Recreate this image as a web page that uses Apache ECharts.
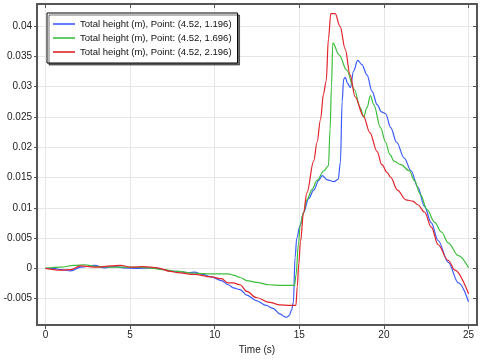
<!DOCTYPE html>
<html>
<head>
<meta charset="utf-8">
<script src="https://cdn.jsdelivr.net/npm/echarts@6/dist/echarts.min.js"></script>
<style>html,body{margin:0;padding:0;background:#fff}#chart{width:483px;height:360px}</style>
</head>
<body>
<div id="chart"></div>
<script>
const seriesNames = [
  'Total height (m), Point: (4.52, 1.196)',
  'Total height (m), Point: (4.52, 1.696)',
  'Total height (m), Point: (4.52, 2.196)'
];
const xTicks = [0, 5, 10, 15, 20, 25];
const yTicks = [-0.005, 0, 0.005, 0.01, 0.015, 0.02, 0.025, 0.03, 0.035, 0.04];

const tBlue = [0, 0.5, 0.9, 1.5, 2.1, 2.9, 3.5, 4.1, 4.6, 5.4, 6.4, 7.0, 7.4, 7.8, 8.5, 8.8, 9.3, 9.8, 10.4, 10.8, 11.1, 11.5, 11.9, 12.45, 13.05, 13.45, 13.85, 14.1, 14.22, 14.4, 14.55, 14.65, 14.75, 14.85, 15.05, 15.25, 15.55, 15.85, 16.15, 16.35, 16.65, 17.05, 17.3, 17.43, 17.53, 17.62, 17.72, 17.85, 18.02, 18.2, 18.45, 18.7, 19.0, 19.3, 19.6, 19.85, 20.1, 20.4, 20.75, 21.2, 21.6, 22.0, 22.4, 22.8, 23.2, 23.8, 24.4, 25.0];
const vBlue = [0, 0, -0.0002, -0.0004, 0.0002, 0.0005, 0.0001, 0.0003, 0.0001, 0.0, 0.0001, -0.0002, -0.0005, -0.0005, -0.0007, -0.0006, -0.001, -0.0014, -0.002, -0.0027, -0.0032, -0.0035, -0.0044, -0.0053, -0.0061, -0.0066, -0.0075, -0.0079, -0.0081, -0.0078, -0.0068, -0.0056, 0.0018, 0.005, 0.0071, 0.0092, 0.0115, 0.0129, 0.0145, 0.0153, 0.0146, 0.0143, 0.0147, 0.0175, 0.0275, 0.0312, 0.0315, 0.0305, 0.0298, 0.0325, 0.0343, 0.0336, 0.0319, 0.0292, 0.027, 0.0258, 0.0255, 0.0232, 0.0208, 0.0182, 0.0161, 0.0134, 0.0102, 0.0075, 0.0046, 0.001, -0.0024, -0.0055];

const tGreen = [0, 0.9, 1.7, 2.3, 3.06, 4.1, 5.0, 6.0, 7.0, 7.8, 8.8, 9.8, 10.4, 10.8, 11.1, 11.5, 11.9, 12.45, 13.25, 13.85, 14.45, 14.72, 14.8, 14.95, 15.05, 15.25, 15.45, 15.75, 16.05, 16.45, 16.72, 16.82, 16.9, 16.98, 17.35, 17.8, 18.25, 18.6, 18.8, 19.0, 19.2, 19.4, 19.8, 20.1, 20.35, 20.6, 21.0, 21.5, 21.8, 22.15, 22.55, 23.0, 23.4, 23.8, 24.4, 25.0];
const vGreen = [0, 0.0002, 0.0005, 0.0006, 0.0003, 0.0002, 0.0002, 0.0001, -0.0002, -0.0005, -0.0008, -0.0009, -0.0009, -0.0009, -0.0011, -0.0015, -0.002, -0.0023, -0.0027, -0.0028, -0.0028, -0.0028, -0.0012, 0.004, 0.0071, 0.0092, 0.0113, 0.013, 0.0145, 0.0161, 0.0169, 0.023, 0.03, 0.0372, 0.0352, 0.0327, 0.0295, 0.0265, 0.025, 0.0265, 0.0285, 0.027, 0.0232, 0.0208, 0.0188, 0.0177, 0.0171, 0.0161, 0.0145, 0.0122, 0.0097, 0.0076, 0.006, 0.0042, 0.0021, 0.0001];

const tRed = [0, 0.9, 1.5, 2.07, 3.06, 3.85, 4.44, 5.04, 5.8, 6.6, 7.4, 7.8, 8.8, 9.8, 10.4, 10.8, 11.1, 11.5, 11.9, 12.45, 13.25, 13.85, 14.45, 14.8, 14.88, 14.97, 15.07, 15.25, 15.45, 15.85, 16.05, 16.25, 16.43, 16.59, 16.72, 16.86, 17.12, 17.41, 17.71, 18.0, 18.3, 18.79, 19.17, 19.59, 19.88, 20.2, 20.4, 20.8, 21.3, 21.7, 22.0, 22.4, 22.8, 23.2, 23.8, 24.2, 25.0];
const vRed = [0, -0.0003, -0.0002, 0.0004, 0.0002, 0.0004, 0.0005, 0.0002, 0.0003, 0.0001, -0.0005, -0.0007, -0.001, -0.0014, -0.0017, -0.0024, -0.0024, -0.0027, -0.0038, -0.0048, -0.0056, -0.006, -0.0061, -0.0061, -0.003, 0.0008, 0.0044, 0.0092, 0.0125, 0.0177, 0.0208, 0.0245, 0.0288, 0.0309, 0.0378, 0.042, 0.042, 0.0399, 0.0362, 0.0319, 0.0283, 0.0251, 0.0224, 0.0193, 0.0171, 0.0158, 0.015, 0.0129, 0.0113, 0.0111, 0.0105, 0.0093, 0.0068, 0.0039, 0.0013, -0.0003, -0.0042];

const colors = ['#3a5afc', '#3dbf3d', '#e0242a'];
const font = "'Liberation Sans', Arial, sans-serif";

function zip(t, v) { return t.map((x, i) => [x, v[i]]); }

const chart = echarts.init(document.getElementById('chart'), null, {renderer: 'canvas'});
const axisLine = {show: true, onZero: false, lineStyle: {color: '#555', width: 2}};
const gridLine = {show: true, lineStyle: {color: '#e6e6e6', width: 1}};

chart.setOption({
  animation: false,
  backgroundColor: '#fff',
  color: colors,
  grid: {left: 37, right: 6, top: 4, bottom: 23, containLabel: false},
  legend: {
    orient: 'vertical', left: 47, top: 13,
    icon: 'rect', itemWidth: 22, itemHeight: 1.6, itemGap: 4,
    padding: [6, 6, 6, 6],
    backgroundColor: '#fff', borderColor: '#000', borderWidth: 1,
    shadowColor: 'rgba(0,0,0,0.55)', shadowOffsetX: 2, shadowOffsetY: 2, shadowBlur: 0,
    textStyle: {fontFamily: font, fontSize: 9.5, color: '#111', lineHeight: 10},
    data: seriesNames
  },
  xAxis: [
    {type: 'value', position: 'bottom', min: -0.5, max: 25.5,
     name: 'Time (s)', nameLocation: 'middle', nameGap: 15,
     nameTextStyle: {fontFamily: font, fontSize: 10, color: '#222'},
     axisLine: axisLine,
     axisTick: {show: true, inside: false, length: 4, customValues: xTicks, lineStyle: {color: '#555'}},
     axisLabel: {customValues: xTicks, fontFamily: font, fontSize: 10, color: '#222', margin: 5},
     splitLine: gridLine},
    {type: 'value', position: 'top', min: -0.5, max: 25.5,
     axisLine: axisLine,
     axisTick: {show: true, inside: true, length: 4, customValues: xTicks, lineStyle: {color: '#555'}},
     axisLabel: {show: false}, splitLine: {show: false}}
  ],
  yAxis: [
    {type: 'value', position: 'left', min: -0.00935, max: 0.0436,
     axisLine: axisLine,
     axisTick: {show: true, inside: false, length: 3, customValues: yTicks, lineStyle: {color: '#555'}},
     axisLabel: {customValues: yTicks, fontFamily: font, fontSize: 10, color: '#222', margin: 5,
                 formatter: v => String(parseFloat(v.toFixed(4)))},
     splitLine: gridLine},
    {type: 'value', position: 'right', min: -0.00935, max: 0.0436,
     axisLine: axisLine,
     axisTick: {show: true, inside: true, length: 4, customValues: yTicks, lineStyle: {color: '#555'}},
     axisLabel: {show: false}, splitLine: {show: false}}
  ],
  series: [
    {name: seriesNames[0], type: 'line', data: zip(tBlue, vBlue), showSymbol: false, smooth: 0.35, smoothMonotone: 'x', lineStyle: {width: 1.2}},
    {name: seriesNames[1], type: 'line', data: zip(tGreen, vGreen), showSymbol: false, smooth: 0.35, smoothMonotone: 'x', lineStyle: {width: 1.2}},
    {name: seriesNames[2], type: 'line', data: zip(tRed, vRed), showSymbol: false, smooth: 0.35, smoothMonotone: 'x', lineStyle: {width: 1.2}}
  ]
});
</script>
</body>
</html>
